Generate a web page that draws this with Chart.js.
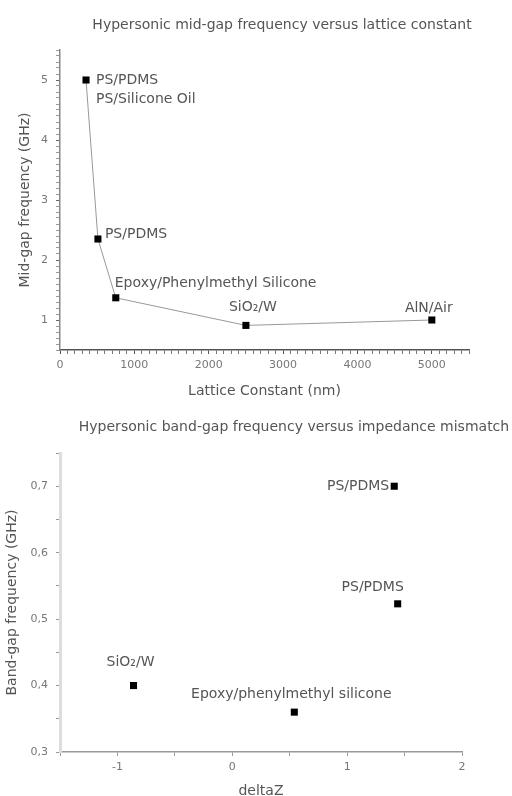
<!DOCTYPE html>
<html><head><meta charset="utf-8">
<script src="https://cdn.jsdelivr.net/npm/chart.js@4"></script>
<style>
html,body{margin:0;padding:0;background:#fff;width:512px;height:796px;overflow:hidden;}
#w1{position:absolute;left:0;top:0;width:512px;height:400px;}
#w2{position:absolute;left:0;top:400px;width:512px;height:400px;}
</style></head><body>
<div id="w1"><canvas id="c1" width="512" height="400"></canvas></div>
<div id="w2"><canvas id="c2" width="512" height="400"></canvas></div>
<script>
// ---------- Chart 1 data ----------
const title1 = "Hypersonic mid-gap frequency versus lattice constant";
const latticeConstant = [350, 510, 750, 2500, 5000];
const midGapFrequency = [5.0, 2.35, 1.37, 0.91, 1.0];
const midGapLabels = [["PS/PDMS", "PS/Silicone Oil"], ["PS/PDMS"], ["Epoxy/Phenylmethyl Silicone"], ["SiO\u2082/W"], ["AlN/Air"]];
const xMajorTicks1 = [0, 1000, 2000, 3000, 4000, 5000];
const yMajorTicks1 = [1, 2, 3, 4, 5];

// ---------- Chart 2 data ----------
const title2 = "Hypersonic band-gap frequency versus impedance mismatch";
const deltaZ = [1.41, 1.44, -0.86, 0.54];
const bandGapFrequency = [0.70, 0.523, 0.40, 0.36];
const bandGapLabels = [["PS/PDMS"], ["PS/PDMS"], ["SiO\u2082/W"], ["Epoxy/phenylmethyl silicone"]];
const xMajorTicks2 = [-1, 0, 1, 2];
const yMajorTicks2 = [0.3, 0.4, 0.5, 0.6, 0.7];
const yTickLabels2 = ["0,3", "0,4", "0,5", "0,6", "0,7"];

// ---------- styling (label placement relative to markers) ----------
const place1 = [
  {dx: 10, dy: 0, align: 'left'},
  {dx: 7, dy: -5, align: 'left'},
  {dx: -1, dy: -14, align: 'left'},
  {dx: 7, dy: -18, align: 'center'},
  {dx: -3, dy: -12, align: 'center'}
];
const place2 = [
  {dx: -5, dy: 0, align: 'right'},
  {dx: -25, dy: -16, align: 'center'},
  {dx: -3, dy: -23, align: 'center'},
  {dx: -3, dy: -18, align: 'center'}
];

const FONT = "'DejaVu Sans', Verdana, sans-serif";
const TXT = '#555';
const TICK = '#777';

function near(v, arr) {
  for (let i = 0; i < arr.length; i++) if (Math.abs(v - arr[i]) < 1e-6) return i;
  return -1;
}

const pointLabelPlugin = {
  id: 'pointLabels',
  afterDatasetsDraw(chart, args, opts) {
    const ctx = chart.ctx;
    const meta = chart.getDatasetMeta(0);
    ctx.save();
    ctx.font = opts.size + 'px ' + FONT;
    ctx.fillStyle = TXT;
    ctx.textBaseline = 'middle';
    meta.data.forEach((el, i) => {
      const p = opts.place[i];
      const lines = opts.labels[i];
      ctx.textAlign = p.align;
      lines.forEach((t, k) => ctx.fillText(t, el.x + p.dx, el.y + p.dy + k * opts.lineHeight));
    });
    ctx.restore();
  }
};

const titlePlugin = {
  id: 'topTitle',
  afterDraw(chart, args, opts) {
    const ctx = chart.ctx;
    ctx.save();
    ctx.font = opts.size + 'px ' + FONT;
    ctx.fillStyle = TXT;
    ctx.textAlign = 'center';
    ctx.textBaseline = 'middle';
    ctx.fillText(opts.text, opts.x, opts.y);
    ctx.restore();
  }
};

function majorTickColor(majors, dark, light) {
  return (c) => (c.tick && near(c.tick.value, majors) >= 0) ? dark : light;
}

// ---------- Chart 1 ----------
new Chart(document.getElementById('c1'), {
  type: 'scatter',
  data: {
    datasets: [{
      data: latticeConstant.map((x, i) => ({x: x, y: midGapFrequency[i]})),
      showLine: true,
      borderColor: '#999',
      borderWidth: 1,
      pointStyle: 'rect',
      pointRadius: 5,
      pointBackgroundColor: '#000',
      pointBorderWidth: 0
    }]
  },
  options: {
    responsive: false, animation: false, devicePixelRatio: 1,
    layout: {padding: {top: 50, right: 43, left: 0, bottom: 0}},
    plugins: {
      legend: {display: false}, tooltip: {enabled: false}, title: {display: false},
      pointLabels: {labels: midGapLabels, place: place1, size: 14, lineHeight: 19},
      topTitle: {text: title1, x: 282, y: 25, size: 14}
    },
    scales: {
      x: {
        type: 'linear', min: 0, max: 5500,
        afterFit: (s) => { s.height = 50; },
        border: {display: true, color: '#555', width: 1.5},
        grid: {drawOnChartArea: false, tickLength: 4,
          tickColor: majorTickColor(xMajorTicks1, '#555', '#777'), tickWidth: 1},
        ticks: {stepSize: 100, autoSkip: false, maxRotation: 0, minRotation: 0, padding: 5,
          color: TICK, font: {family: FONT, size: 11},
          callback: (v) => near(v, xMajorTicks1) >= 0 ? String(v) : ''},
        title: {display: true, text: 'Lattice Constant (nm)', color: TXT,
          font: {family: FONT, size: 14}, padding: {top: 0, bottom: 0}}
      },
      y: {
        type: 'linear', min: 0.5, max: 5.5,
        afterFit: (s) => { s.width = 60; },
        border: {display: true, color: '#888', width: 1.5},
        grid: {drawOnChartArea: false, tickLength: 4,
          tickColor: majorTickColor(yMajorTicks1, '#666', '#999'), tickWidth: 1},
        ticks: {stepSize: 0.1, autoSkip: false, padding: 8,
          color: TICK, font: {family: FONT, size: 11},
          callback: (v) => near(v, yMajorTicks1) >= 0 ? String(Math.round(v)) : ''},
        title: {display: true, text: 'Mid-gap frequency (GHz)', color: TXT,
          font: {family: FONT, size: 14}, padding: {top: 17, bottom: 0}}
      }
    }
  },
  plugins: [pointLabelPlugin, titlePlugin]
});

// ---------- Chart 2 ----------
new Chart(document.getElementById('c2'), {
  type: 'scatter',
  data: {
    datasets: [{
      data: deltaZ.map((x, i) => ({x: x, y: bandGapFrequency[i]})),
      showLine: false,
      pointStyle: 'rect',
      pointRadius: 5,
      pointBackgroundColor: '#000',
      pointBorderWidth: 0
    }]
  },
  options: {
    responsive: false, animation: false, devicePixelRatio: 1,
    layout: {padding: {top: 53, right: 50, left: 0, bottom: 0}},
    plugins: {
      legend: {display: false}, tooltip: {enabled: false}, title: {display: false},
      pointLabels: {labels: bandGapLabels, place: place2, size: 14, lineHeight: 16},
      topTitle: {text: title2, x: 294, y: 27, size: 14}
    },
    scales: {
      x: {
        type: 'linear', min: -1.5, max: 2,
        afterFit: (s) => { s.height = 48; },
        border: {display: true, color: '#999', width: 1.5},
        grid: {drawOnChartArea: false, tickLength: 4, tickColor: '#999', tickWidth: 1},
        ticks: {stepSize: 0.5, autoSkip: false, maxRotation: 0, minRotation: 0, padding: 5,
          color: TICK, font: {family: FONT, size: 11},
          callback: (v) => near(v, xMajorTicks2) >= 0 ? String(Math.round(v)) : ''},
        title: {display: true, text: 'deltaZ', color: TXT,
          font: {family: FONT, size: 14}, padding: {top: 0, bottom: 0}}
      },
      y: {
        type: 'linear', min: 0.3, max: 0.75,
        afterFit: (s) => { s.width = 60; },
        border: {display: true, color: '#ddd', width: 3},
        grid: {drawOnChartArea: false, tickLength: 4, tickColor: '#999', tickWidth: 1},
        ticks: {stepSize: 0.05, autoSkip: false, padding: 8,
          color: TICK, font: {family: FONT, size: 11},
          callback: (v) => { const k = near(v, yMajorTicks2); return k >= 0 ? yTickLabels2[k] : ''; }},
        title: {display: true, text: 'Band-gap frequency (GHz)', color: TXT,
          font: {family: FONT, size: 14}, padding: {top: 4, bottom: 0}}
      }
    }
  },
  plugins: [pointLabelPlugin, titlePlugin]
});
</script>
</body></html>
